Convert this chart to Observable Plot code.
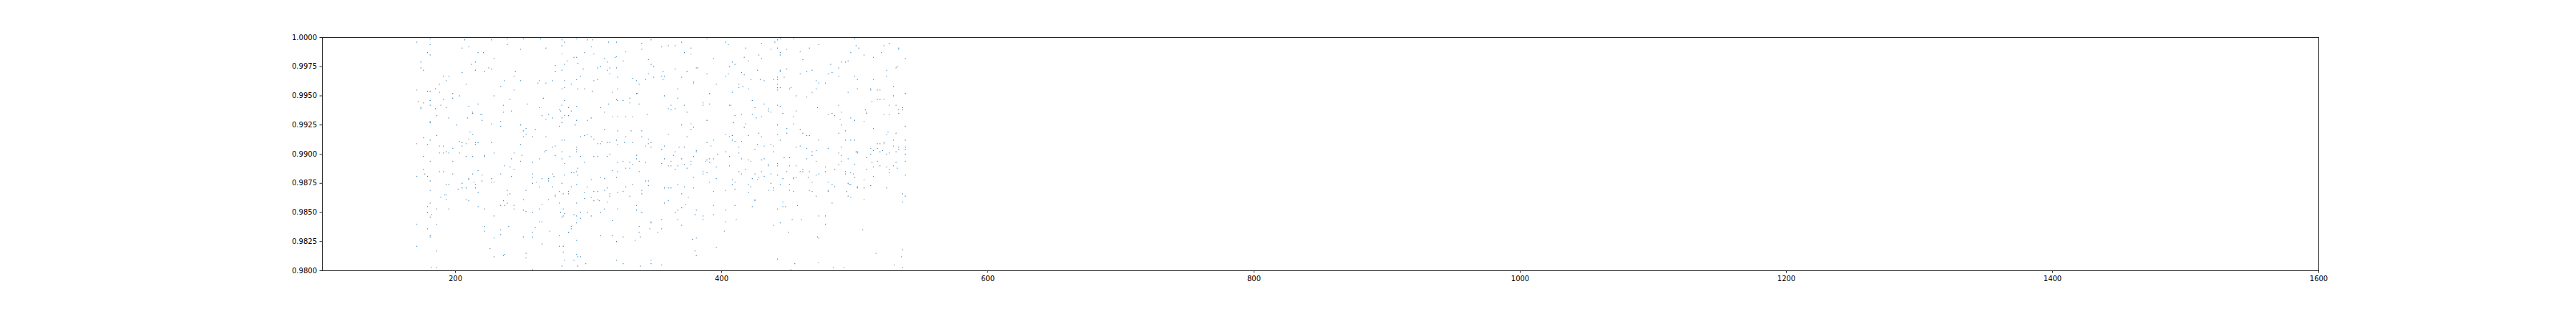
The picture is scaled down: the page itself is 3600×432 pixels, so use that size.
<!DOCTYPE html>
<html>
<head>
<meta charset="utf-8">
<script src="https://cdn.jsdelivr.net/npm/d3@7"></script>
<script src="https://cdn.jsdelivr.net/npm/@observablehq/plot@0.6"></script>
<style>
  html, body { margin: 0; padding: 0; background: #ffffff; }
  #chart { width: 3600px; height: 432px; }
</style>
</head>
<body>
<div id="chart"></div>
<script>
// Tick values
const xTicks = [200, 400, 600, 800, 1000, 1200, 1400, 1600];
const yTicks = [0.98, 0.9825, 0.985, 0.9875, 0.99, 0.9925, 0.995, 0.9975, 1.0];

// Scatter values, grouped by region of the cloud
const xA = [181,171,207,227,239,251,264,280,291,299,303,315,181,239,280,282,205,210,268,302,249,
179,181,217,221,280,297,304,229,289,291,312,320,
174,215,212,284,314,292,282,275,174,176,215,225,227,222,205,245,275,280,296,307,309,316,314,316,191,195,244,294,
193,237,249,262,263,273,282,291,304,307,188,208,268,287,234,282,280,185,292,297,171,179,181,188,244,303,318,
198,203,229,198,191,241,266,172,181,282,176,217,236,254,280,315,181,189,210,263,285,291,174,193,309,174,185,
278,279,287,213,236,242,312,213,219,220,270,186,265,282,285,273,268,280,318,195,209,299,302,220,291,181,181,234,280,
201,227,249,278,290,234,253,251,260,312,211,213,253,186,299,294,297,302,251,258,268,304,
176,210,280,282,181,203,205,215,217,310,314,316,227,307,309,171,179,188,191,208,215,249,205,275,273,291,291,198,
291,268,267,280,188,191,193,195,203,229,244,250,275,222,222,176,208,213,286,294,304,307,314,316,242,249,263,280,181,198,258,297,282];
const yA = [0.9999,0.9996,0.9998,0.9998,0.9999,0.9999,0.9999,0.9998,0.9999,0.9998,0.9998,0.9996,0.9994,0.9994,0.9993,0.9996,0.9991,0.9992,0.9991,0.9992,0.9990,
0.9987,0.9985,0.9987,0.9987,0.9986,0.9987,0.9986,0.9982,0.9983,0.9983,0.9982,0.9983,
0.9979,0.9979,0.9977,0.9980,0.9979,0.9978,0.9977,0.9976,0.9974,0.9972,0.9972,0.9974,0.9973,0.9971,0.9970,0.9971,0.9971,0.9972,0.9973,0.9974,0.9975,0.9974,0.9972,0.9969,0.9967,0.9967,0.9967,0.9967,
0.9963,0.9963,0.9963,0.9961,0.9963,0.9963,0.9963,0.9964,0.9963,0.9964,0.9960,0.9960,0.9961,0.9960,0.9958,0.9957,0.9956,0.9956,0.9956,0.9956,0.9955,0.9954,0.9954,0.9953,0.9955,0.9954,0.9953,
0.9952,0.9950,0.9950,0.9948,0.9947,0.9947,0.9948,0.9945,0.9946,0.9946,0.9944,0.9943,0.9942,0.9943,0.9942,0.9943,0.9942,0.9942,0.9941,0.9940,0.9940,0.9941,0.9940,0.9940,0.9940,0.9939,0.9939,
0.9938,0.9937,0.9937,0.9936,0.9936,0.9937,0.9936,0.9935,0.9934,0.9934,0.9934,0.9933,0.9933,0.9933,0.9933,0.9931,0.9930,0.9931,0.9932,0.9931,0.9931,0.9929,0.9931,0.9929,0.9929,0.9928,0.9927,0.9928,0.9927,
0.9925,0.9926,0.9925,0.9924,0.9925,0.9924,0.9922,0.9920,0.9921,0.9921,0.9919,0.9917,0.9917,0.9916,0.9917,0.9915,0.9916,0.9915,0.9915,0.9915,0.9915,0.9913,
0.9914,0.9913,0.9912,0.9912,0.9912,0.9911,0.9910,0.9910,0.9910,0.9911,0.9910,0.9910,0.9910,0.9909,0.9909,0.9909,0.9908,0.9907,0.9907,0.9909,0.9908,0.9908,0.9907,0.9907,0.9906,0.9906,0.9904,0.9905,
0.9902,0.9903,0.9902,0.9902,0.9901,0.9901,0.9902,0.9901,0.9901,0.9901,0.9901,0.9899,0.9899,0.9899,0.9898,0.9898,0.9898,0.9898,0.9898,0.9898,0.9898,0.9898,0.9898,0.9900,0.9896,0.9894,0.9896,0.9896,0.9894,0.9894,0.9893,0.9893,0.9892];

const xB = [176,177,179,171,181,188,191,198,193,195,181,202,205,208,205,210,210,213,214,215,215,217,220,220,217,227,227,229,234,237,241,244,242,239,239,241,234,236,237,239,244,244,
258,258,258,261,263,265,270,270,273,274,273,253,251,251,253,258,263,265,270,275,275,278,278,280,282,281,285,285,287,287,289,291,292,292,291,297,299,302,304,307,309,312,314,312,316,316,318,
297,302,304,307,308,314,312,309,291,279,281,282,280,281,289,291,294,294,291,302,299,287,287,285,285,278,291,278,281,281,282,280,289,291,292,294,292,298,309,318,318,
186,179,181,179,182,181,171,186,179,181,181,171,186,182,186,189,192,193,193,195,208,210,217,222,229,222,222,229,226,229,236,237,234,234,240,251,253,253,258,258,258,260,263,265,271,265];
const yB = [0.9887,0.9883,0.9881,0.9881,0.9877,0.9885,0.9885,0.9883,0.9874,0.9874,0.9869,0.9870,0.9871,0.9871,0.9875,0.9879,0.9878,0.9883,0.9876,0.9874,0.9871,0.9886,0.9882,0.9877,0.9867,0.9879,0.9876,0.9876,0.9883,0.9890,0.9889,0.9887,0.9881,0.9869,0.9865,0.9866,0.9856,0.9860,0.9856,0.9858,0.9856,0.9853,
0.9883,0.9880,0.9875,0.9876,0.9872,0.9879,0.9879,0.9877,0.9883,0.9881,0.9872,0.9869,0.9861,0.9852,0.9851,0.9850,0.9853,0.9857,0.9861,0.9865,0.9864,0.9868,0.9858,0.9875,0.9882,0.9866,0.9868,0.9866,0.9872,0.9884,0.9884,0.9885,0.9888,0.9882,0.9874,0.9867,0.9872,0.9878,0.9868,0.9868,0.9880,0.9879,0.9871,0.9869,0.9866,0.9864,0.9886,
0.9862,0.9863,0.9860,0.9861,0.9860,0.9859,0.9853,0.9850,0.9858,0.9850,0.9853,0.9849,0.9846,0.9847,0.9848,0.9847,0.9850,0.9845,0.9841,0.9847,0.9850,0.9838,0.9836,0.9833,0.9833,0.9830,0.9826,0.9821,0.9821,0.9816,0.9809,0.9804,0.9809,0.9814,0.9812,0.9812,0.9804,0.9806,0.9830,0.9830,0.9843,
0.9853,0.9855,0.9858,0.9850,0.9848,0.9846,0.9840,0.9840,0.9836,0.9830,0.9829,0.9821,0.9817,0.9803,0.9803,0.9863,0.9865,0.9865,0.9861,0.9853,0.9861,0.9860,0.9855,0.9853,0.9847,0.9838,0.9834,0.9828,0.9819,0.9812,0.9813,0.9814,0.9835,0.9831,0.9838,0.9829,0.9815,0.9811,0.9833,0.9829,0.9801,0.9837,0.9842,0.9842,0.9834,0.9823];

const xC = [321,340,347,355,360,365,370,377,389,328,340,372,377,321,326,345,347,349,394,321,345,356,365,374,381,382,389,
322,333,336,338,343,349,355,356,357,370,379,379,322,367,336,337,391,331,321,322,326,331,338,357,367,362,360,362,365,372,374,386,386,391,
344,322,328,333,389,370,377,379,377,322,332,340,360,328,340,374,321,345,327,333,347,345,394,389,322,343,347,357,368,372,392,355,365,381,381,364,379,336,336,357,362,370,377,326,338,343,331,333,355,388,389,391,394,391,322];
const yC = [0.9996,0.9995,0.9998,0.9992,0.9993,0.9993,0.9996,0.9991,0.9999,0.9988,0.9990,0.9987,0.9986,0.9984,0.9980,0.9981,0.9977,0.9975,0.9982,0.9974,0.9969,0.9971,0.9973,0.9971,0.9974,0.9974,0.9969,
0.9966,0.9965,0.9963,0.9960,0.9964,0.9966,0.9967,0.9964,0.9967,0.9966,0.9962,0.9961,0.9956,0.9956,0.9952,0.9952,0.9952,0.9948,0.9947,0.9946,0.9946,0.9944,0.9943,0.9950,0.9948,0.9942,0.9939,0.9938,0.9939,0.9942,0.9936,0.9944,0.9942,0.9943,
0.9934,0.9932,0.9932,0.9932,0.9929,0.9925,0.9926,0.9923,0.9921,0.9920,0.9920,0.9920,0.9917,0.9915,0.9915,0.9915,0.9912,0.9913,0.9910,0.9910,0.9910,0.9909,0.9912,0.9910,0.9908,0.9907,0.9906,0.9907,0.9906,0.9906,0.9907,0.9904,0.9902,0.9903,0.9902,0.9899,0.9898,0.9899,0.9896,0.9896,0.9894,0.9896,0.9894,0.9894,0.9894,0.9893,0.9893,0.9891,0.9892,0.9894,0.9895,0.9896,0.9896,0.9893,0.9893];

const xD = [322,328,331,338,321,360,362,367,372,374,377,365,386,386,389,396,406,413,415,418,425,428,430,432,435,437,442,442,449,446,
444,437,435,439,439,427,423,420,422,420,425,425,423,410,408,408,410,403,396,391,394,379,379,367,372,370,375,373,370,367,
365,367,370,360,357,357,360,362,343,345,345,340,340,333,328,326,322,331,336,336,340,322,338,338,339,335,326,321,347,347,
346,352,355,355,381,380,386,386,394,394,403,403,402,410,411,378,381,380,381,396,321,326,339,347,347,355,439,444,442,446,446,448,442];
const yD = [0.9885,0.9888,0.9888,0.9885,0.9880,0.9890,0.9890,0.9890,0.9891,0.9888,0.9891,0.9887,0.9885,0.9883,0.9884,0.9889,0.9890,0.9885,0.9883,0.9887,0.9883,0.9880,0.9885,0.9881,0.9890,0.9883,0.9890,0.9882,0.9885,0.9879,
0.9874,0.9875,0.9869,0.9871,0.9869,0.9878,0.9879,0.9874,0.9872,0.9867,0.9861,0.9860,0.9855,0.9876,0.9878,0.9874,0.9870,0.9869,0.9879,0.9876,0.9868,0.9880,0.9871,0.9874,0.9872,0.9866,0.9863,0.9857,0.9854,0.9852,
0.9850,0.9844,0.9839,0.9860,0.9858,0.9871,0.9871,0.9871,0.9877,0.9877,0.9873,0.9869,0.9866,0.9874,0.9872,0.9868,0.9867,0.9864,0.9856,0.9852,0.9850,0.9853,0.9838,0.9833,0.9829,0.9826,0.9829,0.9825,0.9842,0.9841,
0.9836,0.9833,0.9836,0.9844,0.9852,0.9848,0.9847,0.9844,0.9856,0.9848,0.9852,0.9842,0.9834,0.9856,0.9844,0.9827,0.9828,0.9817,0.9813,0.9820,0.9809,0.9806,0.9804,0.9809,0.9806,0.9805,0.9839,0.9841,0.9853,0.9859,0.9855,0.9855,0.9810];

const xE = [403,405,418,430,437,440,442,442,444,449,454,473,466,500,501,503,522,526,533,533,
459,444,444,428,430,417,420,408,410,406,461,490,493,495,497,507,514,520,538,482,
488,427,444,444,449,459,464,468,480,483,488,500,502,514,524,524,531,532,415,417,
403,405,422,429,432,439,442,442,447,471,473,478,396,413,413,416,420,408,442,444,
442,442,452,451,471,468,495,502,512,512,517,519,529,538,456,464,423,432,425,435,
435,437,406,407,442,444,446,410,415,423,426,430,454,456,472,480,483,485,488,490,
489,497,500,508,509,509,507,513,517,519,522,526,529,531,536,533,536,533,522,526,
538,409,418,417,442,449,454,459,461,464,466,449,442,420,428,430,403,406,408,408,
410,415,444,473,488,493,490,493,497,500,514,524,525,531,529,538,517,519,522,522,
529,538,538,533,533,531,526,524,521,519,517,514,512,512,501,502,502,490,480,471,
468,464,459,456,439,439,437,432,427,425,413,413,403,397,406,415,420,422,430,432,
435,442,447,451,464,468,471,488,490,495,488,490,500,509,513,517,531,538,538];
const yE = [0.9996,0.9994,0.9991,0.9995,0.9990,0.9996,0.9998,0.9991,0.9999,0.9990,0.9999,0.9994,0.9991,0.9999,0.9993,0.9991,0.9993,0.9995,0.9991,0.9990,
0.9988,0.9987,0.9985,0.9985,0.9982,0.9983,0.9980,0.9979,0.9977,0.9975,0.9981,0.9979,0.9979,0.9980,0.9987,0.9985,0.9983,0.9987,0.9982,0.9977,
0.9974,0.9972,0.9972,0.9971,0.9973,0.9969,0.9971,0.9972,0.9969,0.9970,0.9967,0.9967,0.9964,0.9964,0.9972,0.9967,0.9974,0.9975,0.9970,0.9968,
0.9967,0.9969,0.9964,0.9964,0.9963,0.9964,0.9964,0.9966,0.9966,0.9963,0.9961,0.9961,0.9960,0.9960,0.9957,0.9958,0.9956,0.9953,0.9957,0.9957,
0.9955,0.9960,0.9957,0.9956,0.9956,0.9953,0.9953,0.9956,0.9956,0.9955,0.9955,0.9955,0.9958,0.9952,0.9950,0.9949,0.9946,0.9943,0.9940,0.9939,
0.9937,0.9936,0.9942,0.9942,0.9942,0.9941,0.9935,0.9933,0.9934,0.9934,0.9931,0.9932,0.9932,0.9937,0.9940,0.9934,0.9935,0.9933,0.9942,0.9936,
0.9930,0.9931,0.9929,0.9938,0.9936,0.9935,0.9928,0.9945,0.9947,0.9947,0.9947,0.9942,0.9950,0.9942,0.9940,0.9938,0.9938,0.9935,0.9934,0.9934,
0.9924,0.9927,0.9926,0.9923,0.9925,0.9922,0.9926,0.9921,0.9918,0.9916,0.9916,0.9918,0.9917,0.9916,0.9918,0.9915,0.9917,0.9915,0.9916,0.9912,
0.9911,0.9911,0.9912,0.9912,0.9918,0.9920,0.9925,0.9912,0.9912,0.9912,0.9922,0.9917,0.9919,0.9918,0.9912,0.9912,0.9909,0.9909,0.9910,0.9909,
0.9907,0.9906,0.9904,0.9906,0.9904,0.9902,0.9901,0.9900,0.9903,0.9902,0.9905,0.9903,0.9905,0.9900,0.9902,0.9902,0.9901,0.9906,0.9905,0.9903,
0.9902,0.9905,0.9907,0.9906,0.9907,0.9902,0.9908,0.9907,0.9908,0.9904,0.9906,0.9901,0.9902,0.9900,0.9898,0.9896,0.9895,0.9894,0.9895,0.9896,
0.9891,0.9892,0.9897,0.9897,0.9896,0.9899,0.9894,0.9901,0.9899,0.9896,0.9891,0.9894,0.9891,0.9897,0.9893,0.9894,0.9893,0.9900,0.9894];

const xF = [451,456,461,459,461,466,454,454,456,465,471,473,478,478,485,493,493,497,499,500,
507,509,514,514,519,524,526,526,529,532,538,451,451,454,466,468,468,471,480,480,
480,483,485,495,496,497,494,495,497,502,502,507,512,524,536,538,536,507,483,457,
453,460,473,478,478,450,472,473,506,516,536,535,530,536,455,452,473,484,492];
const yF = [0.9890,0.9890,0.9887,0.9885,0.9885,0.9885,0.9880,0.9879,0.9880,0.9880,0.9882,0.9883,0.9889,0.9885,0.9887,0.9885,0.9883,0.9884,0.9883,0.9880,
0.9878,0.9887,0.9889,0.9881,0.9890,0.9889,0.9887,0.9884,0.9890,0.9888,0.9882,0.9874,0.9869,0.9868,0.9869,0.9876,0.9868,0.9864,0.9876,0.9869,
0.9868,0.9874,0.9872,0.9875,0.9874,0.9874,0.9868,0.9864,0.9863,0.9872,0.9871,0.9871,0.9873,0.9871,0.9866,0.9864,0.9859,0.9861,0.9858,0.9856,
0.9844,0.9844,0.9847,0.9847,0.9840,0.9833,0.9829,0.9828,0.9835,0.9815,0.9818,0.9812,0.9805,0.9803,0.9806,0.9801,0.9807,0.9803,0.9803];

const groups = [[xA, yA], [xB, yB], [xC, yC], [xD, yD], [xE, yE], [xF, yF]];
const data = groups.flatMap(([xs, ys]) => d3.zip(xs, ys).map(([x, y]) => ({x, y})));

const chart = Plot.plot({
  width: 3600,
  height: 432,
  marginLeft: 450,
  marginRight: 360,
  marginTop: 52,
  marginBottom: 54,
  style: { fontFamily: "DejaVu Sans", fontSize: "10px", color: "#000", background: "#fff", overflow: "visible" },
  x: { domain: [100, 1600] },
  y: { domain: [0.98, 1.0] },
  marks: [
    Plot.dot(data, { x: "x", y: "y", r: 0.65, fill: "#1f77b4", stroke: null, clip: true }),
    Plot.frame({ stroke: "#222", strokeWidth: 1 }),
    Plot.axisX({ ticks: xTicks, tickSize: 3.5, tickPadding: 3.5, label: null, tickFormat: d => String(d), stroke: "#222", fill: "#000" }),
    Plot.axisY({ ticks: yTicks, tickSize: 3.5, tickPadding: 4, label: null, tickFormat: d3.format(".4f"), stroke: "#222", fill: "#000" })
  ]
});
document.getElementById("chart").appendChild(chart);
</script>
</body>
</html>
